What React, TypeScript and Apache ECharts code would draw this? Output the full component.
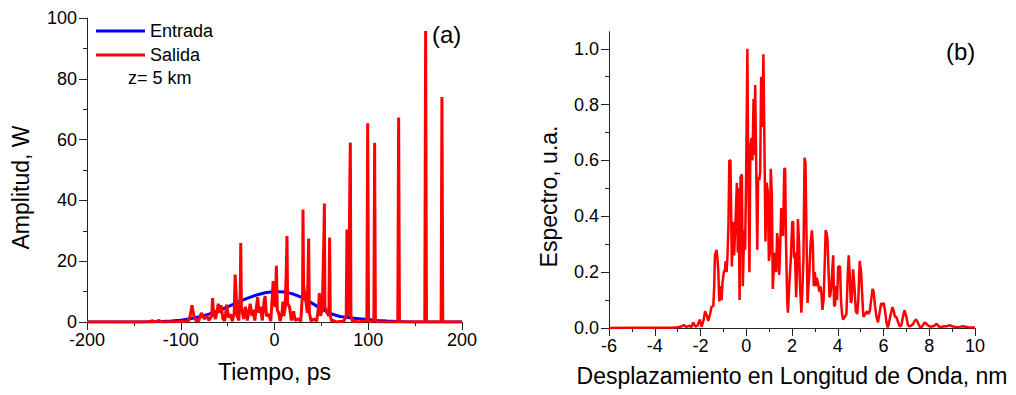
import React, { useEffect, useRef } from "react";
import * as echarts from "echarts";

const FONT = "'Liberation Sans', Arial, sans-serif";

// Panel (a): input pulse (Entrada), sampled every 10 ps
const entrada: [number, number][] = [
  [-200, 0], [-140, 0], [-130, 0.1], [-120, 0.2], [-110, 0.35], [-100, 0.6], [-90, 1.1],
  [-80, 1.7], [-70, 2.6], [-60, 3.7], [-50, 5.0], [-40, 6.4], [-30, 7.7], [-20, 8.8],
  [-10, 9.6], [0, 10], [10, 9.9], [20, 9.2], [30, 8.0], [40, 6.2], [50, 4.3], [60, 2.7],
  [70, 1.8], [80, 1.4], [90, 1.1], [100, 0.8], [110, 0.5], [120, 0.3], [130, 0.15],
  [140, 0.05], [150, 0], [200, 0],
];

// Panel (a): output (Salida) at z = 5 km
const salida: [number, number][] = [
  [-200, 0], [-135, 0], [-130, 0.4], [-128, 0], [-123, 0.5], [-120, 0], [-100, 0.2], [-92, 0.3],
  [-90, 2], [-88, 5.5], [-86, 2], [-84, 0.5], [-81, 0.3], [-78, 3], [-75, 1], [-72, 2],
  [-70, 0.5], [-67, 2], [-66, 7.9], [-65, 3], [-63, 1], [-61, 4], [-60, 6], [-58.5, 3],
  [-57, 5.5], [-55, 1], [-53, 0.5], [-51, 5.7], [-49, 1.5], [-47, 2.5], [-45, 0.3], [-43, 3],
  [-42, 15.6], [-41.3, 12], [-40, 2], [-38, 0.5], [-36.5, 10], [-36, 26], [-35.3, 5], [-33, 1],
  [-31, 5], [-29, 0.5], [-26, 6], [-24, 2], [-23, 4], [-21, 0.5], [-18, 8.2], [-16.5, 3],
  [-15, 5], [-13, 0.5], [-11, 7], [-10, 8.5], [-8.5, 2], [-6, 2.5], [-4, 0.3], [-2, 10],
  [-1.5, 13.5], [-0.5, 6], [1, 5], [2, 18.5], [3, 4], [4.4, 3], [6, 0.3], [8, 3], [9, 6.7],
  [10, 2], [11.5, 5], [12.8, 20], [13.3, 28.3], [14, 6], [16, 5], [18, 0.5], [20.4, 3.5],
  [22, 0.5], [25.8, 1], [28, 0.3], [30, 10], [30.4, 37], [31, 12], [33, 8], [35, 3], [36, 20],
  [36.4, 27.5], [37.2, 3], [39, 0.3], [42, 1], [45, 0.3], [47, 5], [47.8, 9.5], [49, 2],
  [51, 4], [52.8, 30], [53.2, 39], [53.8, 5], [56, 3], [58, 2], [58.8, 27.8], [59.5, 2],
  [61, 0.3], [63, 0.5], [66, 0], [74, 0.3], [76.5, 2], [77.3, 30.4], [78, 3], [79, 2],
  [80.5, 50], [80.9, 59], [81.5, 2], [83, 0.3], [90, 0], [98.5, 0.5], [99.4, 65.4],
  [100.3, 0.5], [102, 0], [106, 0.5], [106.8, 59], [107.6, 0.5], [110, 0], [131.5, 0],
  [132.4, 67.3], [133.3, 0], [160.3, 0], [161.2, 95.7], [162.1, 0], [177.7, 0], [178.6, 74],
  [179.5, 0], [200, 0],
];

// Panel (b): spectrum
const espectro: [number, number][] = [
  [-6, 0], [-5, 0.001], [-4, 0.001], [-3.2, 0.002], [-3, 0.003], [-2.85, 0.005], [-2.72, 0.01],
  [-2.62, 0.004], [-2.48, 0.008], [-2.4, 0.003], [-2.32, 0.02], [-2.22, 0.005], [-2.12, 0.01],
  [-2.03, 0.03], [-1.95, 0.005], [-1.86, 0.03], [-1.8, 0.06], [-1.72, 0.045], [-1.66, 0.025],
  [-1.58, 0.05], [-1.52, 0.075], [-1.44, 0.08], [-1.4, 0.15], [-1.37, 0.26], [-1.3, 0.28],
  [-1.25, 0.24], [-1.22, 0.2], [-1.18, 0.095], [-1.13, 0.15], [-1.08, 0.1], [-1.04, 0.16],
  [-0.98, 0.2], [-0.93, 0.21], [-0.9, 0.24], [-0.86, 0.2], [-0.82, 0.26], [-0.78, 0.36],
  [-0.74, 0.6], [-0.69, 0.6], [-0.63, 0.22], [-0.57, 0.38], [-0.53, 0.26], [-0.47, 0.38],
  [-0.41, 0.52], [-0.37, 0.27], [-0.34, 0.5], [-0.29, 0.1], [-0.25, 0.54], [-0.19, 0.55],
  [-0.15, 0.15], [-0.09, 0.35], [-0.05, 0.28], [0, 0.59], [0.05, 1.0], [0.09, 0.55],
  [0.14, 0.2], [0.18, 0.65], [0.23, 0.68], [0.27, 0.6], [0.32, 0.82], [0.35, 0.62],
  [0.39, 0.87], [0.43, 0.62], [0.48, 0.28], [0.52, 0.54], [0.57, 0.53], [0.61, 0.56],
  [0.65, 0.9], [0.7, 0.72], [0.75, 0.98], [0.8, 0.62], [0.84, 0.31], [0.89, 0.52],
  [0.94, 0.49], [0.99, 0.24], [1.03, 0.27], [1.07, 0.57], [1.12, 0.48], [1.16, 0.14],
  [1.2, 0.21], [1.26, 0.27], [1.31, 0.2], [1.35, 0.34], [1.4, 0.3], [1.44, 0.19], [1.48, 0.28],
  [1.53, 0.43], [1.57, 0.34], [1.61, 0.33], [1.66, 0.57], [1.7, 0.57], [1.74, 0.3], [1.79, 0.1],
  [1.82, 0.055], [1.88, 0.15], [1.95, 0.25], [2.01, 0.38], [2.05, 0.38], [2.09, 0.25],
  [2.13, 0.27], [2.18, 0.11], [2.22, 0.2], [2.26, 0.39], [2.31, 0.3], [2.35, 0.15],
  [2.41, 0.055], [2.46, 0.15], [2.5, 0.25], [2.55, 0.61], [2.59, 0.59], [2.63, 0.35],
  [2.68, 0.09], [2.72, 0.15], [2.76, 0.2], [2.81, 0.3], [2.87, 0.35], [2.91, 0.3], [2.95, 0.15],
  [3.0, 0.2], [3.04, 0.15], [3.08, 0.18], [3.14, 0.16], [3.19, 0.13], [3.24, 0.15], [3.29, 0.12],
  [3.33, 0.065], [3.38, 0.1], [3.42, 0.2], [3.47, 0.35], [3.51, 0.34], [3.55, 0.32], [3.6, 0.2],
  [3.64, 0.11], [3.68, 0.12], [3.72, 0.15], [3.8, 0.26], [3.84, 0.08], [3.88, 0.08],
  [3.93, 0.15], [3.97, 0.1], [4.02, 0.22], [4.1, 0.22], [4.14, 0.1], [4.19, 0.05], [4.23, 0.03],
  [4.31, 0.04], [4.38, 0.05], [4.44, 0.2], [4.48, 0.26], [4.52, 0.2], [4.57, 0.09], [4.61, 0.1],
  [4.67, 0.21], [4.73, 0.15], [4.79, 0.06], [4.85, 0.05], [4.9, 0.1], [4.96, 0.24], [5.02, 0.2],
  [5.08, 0.1], [5.12, 0.04], [5.2, 0.05], [5.28, 0.06], [5.34, 0.05], [5.4, 0.06], [5.46, 0.1],
  [5.52, 0.14], [5.57, 0.13], [5.63, 0.08], [5.69, 0.04], [5.76, 0.02], [5.84, 0.06],
  [5.9, 0.09], [5.95, 0.08], [6.01, 0.09], [6.07, 0.06], [6.13, 0.02], [6.19, 0.002],
  [6.24, 0.02], [6.32, 0.05], [6.39, 0.075], [6.45, 0.06], [6.5, 0.04], [6.56, 0.04],
  [6.64, 0.02], [6.71, 0.005], [6.78, 0.01], [6.85, 0.04], [6.92, 0.063], [7.0, 0.04],
  [7.07, 0.01], [7.15, 0.005], [7.22, 0.01], [7.28, 0.012], [7.36, 0.025], [7.42, 0.031],
  [7.5, 0.02], [7.58, 0.005], [7.65, 0.002], [7.73, 0.01], [7.8, 0.02], [7.87, 0.015],
  [7.94, 0.01], [8.02, 0.005], [8.13, 0.005], [8.22, 0.008], [8.31, 0.015], [8.38, 0.01],
  [8.45, 0.003], [8.6, 0.005], [8.74, 0.006], [8.89, 0.01], [9.04, 0.005], [9.2, 0.003],
  [9.33, 0.004], [9.47, 0.006], [9.7, 0.003], [10, 0.002],
];

const specMajorTicks = [0, 0.2, 0.4, 0.6, 0.8, 1.0];
const specMinorTicks = [0.1, 0.3, 0.5, 0.7, 0.9];

const AXIS_COLOR = "#222";

function baseAxis(extra: any) {
  return {
    type: "value",
    axisLine: { show: true, onZero: false, lineStyle: { color: AXIS_COLOR, width: 1 } },
    axisTick: { show: true, inside: false, length: 8, lineStyle: { color: AXIS_COLOR, width: 1 } },
    minorTick: { show: true, splitNumber: 2, length: 4, lineStyle: { color: AXIS_COLOR, width: 1 } },
    axisLabel: { fontSize: 18, color: "#000", fontFamily: FONT, margin: 9 },
    splitLine: { show: false },
    minorSplitLine: { show: false },
    ...extra,
  };
}

export default function App() {
  const ref = useRef<HTMLDivElement>(null);
  useEffect(() => {
    if (!ref.current) return;
    const chart = echarts.init(ref.current, null, { renderer: "svg" });
    const titleStyle = { fontSize: 23, fontFamily: FONT, fill: "#000", align: "center", verticalAlign: "middle" };
    chart.setOption({
      animation: false,
      backgroundColor: "#fff",
      grid: [
        { left: 87, top: 18, width: 375, height: 304 },
        { left: 609, top: 32, width: 366, height: 296 },
      ],
      xAxis: [
        baseAxis({ gridIndex: 0, min: -200, max: 200, interval: 100 }),
        baseAxis({ gridIndex: 1, min: -6, max: 10, interval: 2 }),
      ],
      yAxis: [
        baseAxis({
          gridIndex: 0, min: 0, max: 100, interval: 20,
          axisLabel: { fontSize: 18, color: "#000", fontFamily: FONT, margin: 10 },
        }),
        baseAxis({
          gridIndex: 1, min: 0, max: 1.06, interval: 0.2,
          minorTick: { show: false },
          axisTick: { show: true, inside: false, length: 8, customValues: specMajorTicks, lineStyle: { color: AXIS_COLOR, width: 1 } },
          axisLabel: {
            fontSize: 18, color: "#000", fontFamily: FONT, margin: 10,
            customValues: specMajorTicks,
            formatter: (v: number) => v.toFixed(1),
          },
        }),
        {
          type: "value", gridIndex: 1, min: 0, max: 1.06, position: "left", offset: 0,
          axisLine: { show: true, onZero: false, lineStyle: { color: AXIS_COLOR, width: 1 } },
          axisTick: { show: true, inside: false, length: 4, customValues: specMinorTicks, lineStyle: { color: AXIS_COLOR, width: 1 } },
          axisLabel: { show: false },
          splitLine: { show: false },
        },
      ],
      legend: {
        orient: "vertical",
        left: 96,
        top: 22,
        padding: 0,
        icon: "rect",
        itemWidth: 49,
        itemHeight: 3,
        itemGap: 6,
        textStyle: { fontSize: 18, fontFamily: FONT, color: "#000" },
        data: ["Entrada", "Salida"],
      },
      series: [
        {
          name: "Entrada", type: "line", xAxisIndex: 0, yAxisIndex: 0, data: entrada,
          symbol: "none", lineStyle: { color: "#0000ff", width: 3 }, itemStyle: { color: "#0000ff" },
        },
        {
          name: "Salida", type: "line", xAxisIndex: 0, yAxisIndex: 0, data: salida,
          symbol: "none", lineStyle: { color: "#ff0000", width: 3 }, itemStyle: { color: "#ff0000" },
        },
        {
          name: "Espectro", type: "line", xAxisIndex: 1, yAxisIndex: 1, data: espectro,
          symbol: "none", lineStyle: { color: "#ff0000", width: 2.5 }, itemStyle: { color: "#ff0000" },
        },
      ],
      graphic: [
        { type: "text", x: 21, y: 187.5, rotation: Math.PI / 2, style: { text: "Amplitud, W", ...titleStyle } },
        { type: "text", x: 274.5, y: 372, style: { text: "Tiempo, ps", ...titleStyle } },
        { type: "text", x: 549, y: 196.5, rotation: Math.PI / 2, style: { text: "Espectro, u.a.", ...titleStyle } },
        { type: "text", x: 792, y: 376, style: { text: "Desplazamiento en Longitud de Onda, nm", ...titleStyle } },
        { type: "text", x: 128, y: 78, style: { text: "z= 5 km", fontSize: 18, fontFamily: FONT, fill: "#000", align: "left", verticalAlign: "middle" } },
        { type: "text", x: 432, y: 34.5, style: { text: "(a)", fontSize: 24, fontFamily: FONT, fill: "#000", align: "left", verticalAlign: "middle" } },
        { type: "text", x: 946, y: 51, style: { text: "(b)", fontSize: 24, fontFamily: FONT, fill: "#000", align: "left", verticalAlign: "middle" } },
      ],
    });
    return () => chart.dispose();
  }, []);
  return <div ref={ref} style={{ position: "fixed", left: 0, top: 0, width: 1016, height: 395 }} />;
}
